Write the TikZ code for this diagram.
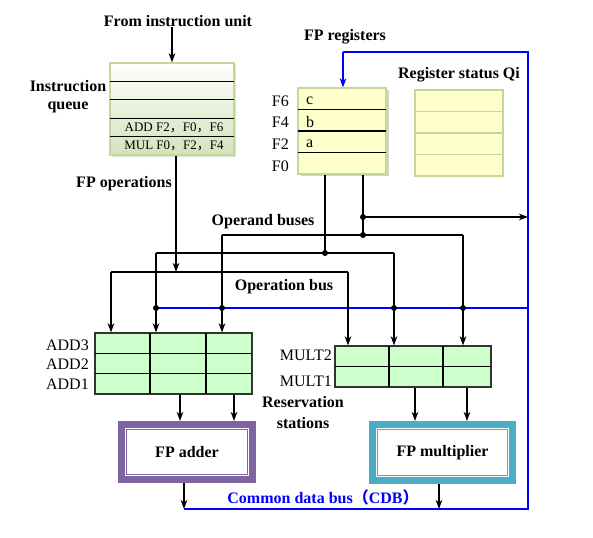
\documentclass[tikz,border=0pt]{standalone}
\usepackage{fontspec}
\setmainfont{Liberation Serif}
\newfontfamily\cjk{Noto Sans CJK SC}
\usetikzlibrary{shapes,arrows.meta,shadows}
\definecolor{qgreen}{RGB}{212,226,186}
\definecolor{qborder}{RGB}{196,215,155}
\definecolor{regyellow}{RGB}{255,255,204}
\definecolor{rsgreen}{RGB}{204,255,204}
\definecolor{addpurple}{RGB}{128,100,162}
\definecolor{multcyan}{RGB}{75,172,198}
\definecolor{cdbblue}{RGB}{0,0,255}
\tikzstyle{boldtext} = [font=\fontsize{16}{18}\selectfont\bfseries, align=center, inner sep=0pt]
\tikzstyle{plaintext} = [font=\fontsize{16}{18}\selectfont, inner sep=0pt]
\tikzstyle{instr} = [font=\fontsize{13}{15}\selectfont, inner sep=0pt]
\tikzstyle{queue} = [rectangle, draw=qborder, line width=1.2pt, top color=white, bottom color=qgreen,
    minimum width=124pt, minimum height=92pt, drop shadow={shadow xshift=2pt, shadow yshift=-2pt, fill=black!25}]
\tikzstyle{regfile} = [rectangle, draw=qborder, line width=1.2pt, fill=regyellow,
    minimum width=88pt, minimum height=86pt, drop shadow={shadow xshift=2.5pt, shadow yshift=-2.5pt, fill=black!35}]
\tikzstyle{statusrow} = [rectangle, draw=qborder, line width=1.2pt, fill=regyellow,
    minimum width=88pt, minimum height=21.5pt]
\tikzstyle{station} = [rectangle, draw=black!80, line width=1.2pt, fill=rsgreen]
\tikzstyle{rowline} = [line width=1.2pt]
\tikzstyle{bus} = [line width=1.8pt]
\tikzstyle{arrow} = [line width=1.6pt,-{Stealth[length=9pt,width=6.5pt,inset=2.5pt]}]
\tikzstyle{cdb} = [draw=cdbblue, line width=1.3pt]
\tikzstyle{dot} = [circle, fill=black, inner sep=0pt, minimum size=6pt]
\tikzset{unit/.style={rectangle, fill=white, draw=white, line width=3pt, outer sep=8.5pt,
    font=\fontsize{16}{18}\selectfont\bfseries,
    preaction={draw=#1, line width=17pt}, postaction={draw=#1, line width=1pt}}}

\begin{document}
\begin{tikzpicture}[x=1pt, y=-1pt, auto]
    \useasboundingbox (0,0) rectangle (593,537);
    % Place nodes
    \node [boldtext] (fromiu) at (178,21) {From instruction unit};
    \node [queue] (queue) at (172,109) {};
    \foreach \y in {81.4,99.8,118.2,136.6}
        \draw [rowline] (110,\y) -- (234,\y);
    \node [instr] (addinstr) at (174,127.6) {ADD F2{\cjk ，}F0{\cjk ，}F6};
    \node [instr] (mulinstr) at (174,146) {MUL F0{\cjk ，}F2{\cjk ，}F4};
    \node [boldtext] (queuelbl) at (68,97) {Instruction\\queue};
    \node [boldtext] (fpops) at (124,184) {FP operations};

    \node [boldtext] (reglbl) at (345,37) {FP registers};
    \node [regfile] (regs) at (342,131) {};
    \foreach \y in {109.5,131,152.5}
        \draw [rowline] (298,\y) -- (386,\y);
    \foreach \reg/\val/\y in {F6/c/101,F4/b/122.5,F2/a/144,F0//166} {
        \node [plaintext, anchor=east] (reg\reg) at (289,\y) {\reg};
        \node [plaintext, anchor=west] (val\reg) at (306,\y) {\val};
    }
    \node [boldtext] (qilbl) at (459,75) {Register status Qi};
    \foreach \i in {0,...,3}
        \node [statusrow] (qi\i) at (459,100.75+21.5*\i) {};

    \node [boldtext] (operandlbl) at (263,222) {Operand buses};
    \node [boldtext] (oplbl) at (284,287) {Operation bus};

    \node [station, minimum width=157pt, minimum height=61pt] (addrs) at (173.5,363.5) {};
    \foreach \y in {353.3,373.7}
        \draw [rowline] (95,\y) -- (252,\y);
    \foreach \x in {150,206}
        \draw [rowline] (\x,333) -- (\x,394);
    \foreach \n/\y in {3/345,2/364,1/384}
        \node [plaintext, anchor=east] (add\n) at (89,\y) {ADD\n};
    \node [station, minimum width=156pt, minimum height=41pt] (multrs) at (413,366.5) {};
    \draw [rowline] (335,366.5) -- (491,366.5);
    \foreach \x in {389,443}
        \draw [rowline] (\x,346) -- (\x,387);
    \foreach \n/\y in {2/355,1/381}
        \node [plaintext, anchor=east] (mult\n) at (332,\y) {MULT\n};
    \node [boldtext, font=\fontsize{16}{21}\selectfont\bfseries] (rslbl) at (303,412.5) {Reservation\\stations};

    \node [unit=addpurple, minimum width=121pt, minimum height=45pt] (adder) at (187,452) {FP adder};
    \node [unit=multcyan, minimum width=130pt, minimum height=46pt] (mult) at (442.5,452.5) {FP multiplier};
    \node [boldtext, text=cdbblue] (cdblbl) at (323,497) {Common data bus{\cjk （}CDB{\cjk ）}};

    % Bus points
    \coordinate (opx) at (176,272);
    \coordinate (opL) at (111,272);
    \coordinate (opR) at (348,272);
    \coordinate (srcA) at (325,253);
    \coordinate (srcB) at (363,235);
    \coordinate (toCDB) at (363,217);
    \coordinate (ob1L) at (156,253);
    \coordinate (ob1R) at (394,253);
    \coordinate (ob2L) at (222,235);
    \coordinate (ob2R) at (463,235);
    \coordinate (cdbL) at (156,308);
    \coordinate (cdbBL) at (184,509);
    \coordinate (cdbBR) at (528,509);
    \coordinate (cdbTR) at (528,52);
    \coordinate (cdbTL) at (343,52);
    \coordinate (mulout) at (439,509);
    \coordinate (addA) at (180,0);
    \coordinate (addB) at (234,0);
    \coordinate (mulA) at (415,0);
    \coordinate (mulB) at (467,0);

    % Draw edges
    \draw [cdb] (cdbL) -- (cdbL -| cdbTR);
    \draw [cdb] (cdbBL) -- (cdbBR) -- (cdbTR) -- (cdbTL);
    \draw [cdb, line width=1.6pt, -{Stealth[length=9pt,width=6.5pt,inset=2.5pt]}] (cdbTL) -- (regs.north -| cdbTL);
    \draw [arrow] (fromiu.south -| queue.north) -- (queue.north);
    \draw [arrow] (queue.south -| opx) -- (opx);
    \draw [bus] (opL) -- (opR);
    \draw [arrow] (opL) -- (addrs.north -| opL);
    \draw [arrow] (opR) -- (multrs.north -| opR);
    \draw [bus] (regs.south -| srcA) -- (srcA);
    \draw [bus] (regs.south -| srcB) -- (srcB);
    \draw [arrow] (toCDB) -- (toCDB -| cdbTR);
    \draw [bus] (ob1L) -- (ob1R);
    \draw [bus] (ob2L) -- (ob2R);
    \foreach \p in {ob1L,ob2L}
        \draw [arrow] (\p) -- (addrs.north -| \p);
    \foreach \p in {ob1R,ob2R}
        \draw [arrow] (\p) -- (multrs.north -| \p);
    \foreach \p in {srcA,srcB,toCDB}
        \node [dot] at (\p) {};
    \foreach \p in {ob1L,ob2L,ob1R,ob2R}
        \node [dot] at (\p |- cdbL) {};
    \foreach \p in {addA,addB}
        \draw [arrow] (addrs.south -| \p) -- (adder.north -| \p);
    \foreach \p in {mulA,mulB}
        \draw [arrow] (multrs.south -| \p) -- (mult.north -| \p);
    \draw [arrow] (adder.south -| cdbBL) -- (cdbBL);
    \draw [arrow] (mult.south -| mulout) -- (mulout);
\end{tikzpicture}
\end{document}
